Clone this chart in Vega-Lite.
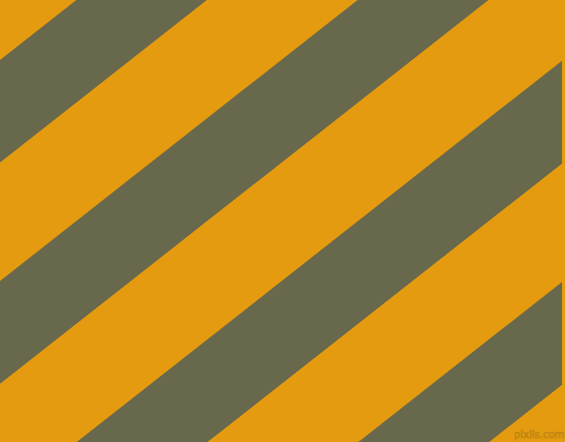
{
  "$schema": "https://vega.github.io/schema/vega-lite/v6.json",
  "width": 565,
  "height": 442,
  "autosize": {"type": "fit", "contains": "padding"},
  "padding": 0,
  "background": "#E49B0F",
  "config": {
    "view": {"stroke": "transparent", "fill": "#E49B0F"}
  },
  "layer": [
    {
      "data": {
        "values": [
          {"band": "o0", "tone": "orange", "x": 0, "top": -58.6, "bottom": 60},
          {"band": "o0", "tone": "orange", "x": 565, "top": -500.2, "bottom": -381.6},
          {"band": "v1", "tone": "olive", "x": 0, "top": 60, "bottom": 162.7},
          {"band": "v1", "tone": "olive", "x": 565, "top": -381.6, "bottom": -278.9},
          {"band": "o1", "tone": "orange", "x": 0, "top": 162.7, "bottom": 281},
          {"band": "o1", "tone": "orange", "x": 565, "top": -278.9, "bottom": -160.6},
          {"band": "v2", "tone": "olive", "x": 0, "top": 281, "bottom": 384},
          {"band": "v2", "tone": "olive", "x": 565, "top": -160.6, "bottom": -57.6},
          {"band": "o2", "tone": "orange", "x": 0, "top": 384, "bottom": 502.3},
          {"band": "o2", "tone": "orange", "x": 565, "top": -57.6, "bottom": 60.7},
          {"band": "v3", "tone": "olive", "x": 0, "top": 502.3, "bottom": 605.3},
          {"band": "v3", "tone": "olive", "x": 565, "top": 60.7, "bottom": 163.7},
          {"band": "o3", "tone": "orange", "x": 0, "top": 605.3, "bottom": 723.6},
          {"band": "o3", "tone": "orange", "x": 565, "top": 163.7, "bottom": 282},
          {"band": "v4", "tone": "olive", "x": 0, "top": 723.6, "bottom": 826.6},
          {"band": "v4", "tone": "olive", "x": 565, "top": 282, "bottom": 385},
          {"band": "o4", "tone": "orange", "x": 0, "top": 826.6, "bottom": 945},
          {"band": "o4", "tone": "orange", "x": 565, "top": 385, "bottom": 503.4}
        ]
      },
      "mark": {"type": "area", "clip": true, "orient": "vertical"},
      "encoding": {
        "x": {
          "field": "x", "type": "quantitative",
          "scale": {"domain": [0, 565], "nice": false, "zero": false},
          "axis": null
        },
        "y": {
          "field": "top", "type": "quantitative",
          "scale": {"domain": [0, 442], "reverse": true, "nice": false, "zero": false},
          "axis": null
        },
        "y2": {"field": "bottom"},
        "detail": {"field": "band", "type": "nominal"},
        "color": {
          "field": "tone", "type": "nominal",
          "scale": {"domain": ["orange", "olive"], "range": ["#E49B0F", "#68694C"]},
          "legend": null
        }
      }
    },
    {
      "data": {"values": [{"label": "pixlis.com", "x": 542, "y": 435}]},
      "mark": {
        "type": "text",
        "font": "DejaVu Sans",
        "fontSize": 10,
        "fill": "#E49B0F",
        "stroke": "#B98310",
        "strokeWidth": 0.6,
        "align": "center",
        "baseline": "middle"
      },
      "encoding": {
        "x": {"field": "x", "type": "quantitative"},
        "y": {"field": "y", "type": "quantitative"},
        "text": {"field": "label"}
      }
    }
  ]
}
